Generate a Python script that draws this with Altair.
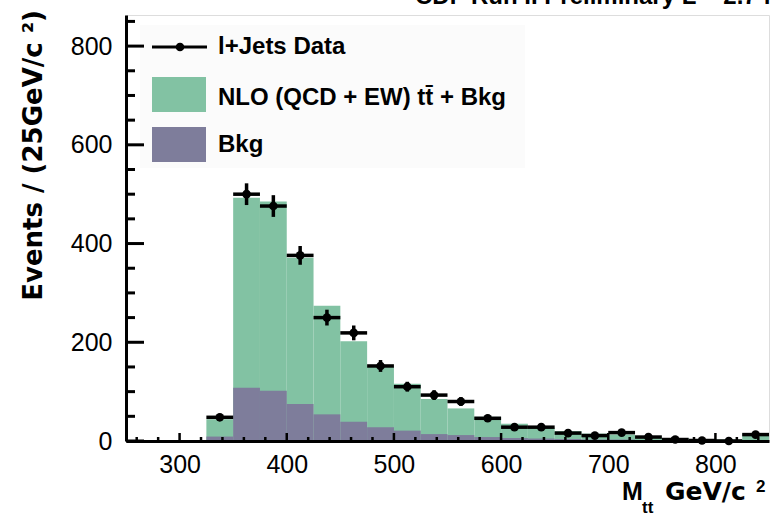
import altair as alt
import pandas as pd

# ---------------- data ----------------
bin_lo = [325, 350, 375, 400, 425, 450, 475, 500, 525, 550, 575,
          600, 625, 650, 675, 700, 725, 750, 775, 800, 825]
bin_width = 25
data_counts = [48, 500, 476, 376, 250, 219, 152, 110, 93, 80, 46,
               28, 28, 16, 11, 17, 8, 3, 1, 0, 13]
data_errors = [7, 22, 22, 19, 16, 15, 12, 10, 10, 9, 7,
               5, 5, 4, 3, 4, 3, 2, 1, 0, 4]
total_pred = [44, 493, 485, 371, 274, 202, 151, 116, 85, 66, 49,
              35, 27, 20, 15, 13, 9, 6, 4, 3, 15]
bkg_pred = [9, 108, 102, 75, 54, 39, 28, 21, 14, 12, 8,
            6, 5, 4, 3, 3, 2, 2, 1, 1, 2]

x_labels = [300, 400, 500, 600, 700, 800]
x_minor = [260, 280, 320, 340, 360, 380, 420, 440, 460, 480, 520, 540, 560, 580,
           620, 640, 660, 680, 720, 740, 760, 780, 820, 840]
y_labels = [0, 200, 400, 600, 800]
y_minor = [50, 100, 150, 250, 300, 350, 450, 500, 550, 650, 700, 750, 850]

GREEN = "#82c2a3"
PURPLE = "#7e7d9b"

df = pd.DataFrame({
    "lo": bin_lo,
    "hi": [b + bin_width for b in bin_lo],
    "center": [b + bin_width / 2 for b in bin_lo],
    "n": data_counts,
    "nlo": [n - e for n, e in zip(data_counts, data_errors)],
    "nhi": [n + e for n, e in zip(data_counts, data_errors)],
    "total": total_pred,
    "bkg": bkg_pred,
})
df_err = df[df["nhi"] > df["nlo"]]

W, H = 643, 426
xs = alt.Scale(domain=[250, 850], nice=False, zero=False)
ys = alt.Scale(domain=[0, 863], nice=False, zero=False)

xaxis = alt.Axis(values=x_labels, grid=False, ticks=False, domain=True,
                 domainColor="black", domainWidth=3, labelFont="Liberation Sans",
                 labelFontSize=25, labelColor="black", labelPadding=11,
                 title=None, zindex=1, labelFlush=False)
yaxis = alt.Axis(values=y_labels, grid=False, ticks=False, domain=True,
                 domainColor="black", domainWidth=3, labelFont="Liberation Sans",
                 labelFontSize=25, labelColor="black", labelPadding=14,
                 title=None, zindex=1)

X = lambda f: alt.X(f, type="quantitative", scale=xs, axis=xaxis)
Y = lambda f: alt.Y(f, type="quantitative", scale=ys, axis=yaxis)

one = pd.DataFrame({"a": [0]})

# legend background (very faint)
legend_bg = alt.Chart(one).mark_rect(fill="#fbfbfb").encode(
    x=alt.value(14), x2=alt.value(399), y=alt.value(10), y2=alt.value(153))

green = alt.Chart(df).mark_rect(color=GREEN).encode(
    x=X("lo"), x2="hi", y=Y("total"), y2=alt.datum(0))
purple = alt.Chart(df).mark_rect(color=PURPLE).encode(
    x=X("lo"), x2="hi", y=Y("bkg"), y2=alt.datum(0))

hbar = alt.Chart(df).mark_rule(color="black", strokeWidth=3.5).encode(
    x=X("lo"), x2="hi", y=Y("n"))
vbar = alt.Chart(df_err).mark_rule(color="black", strokeWidth=3.5).encode(
    x=X("center"), y=Y("nlo"), y2="nhi")
pts = alt.Chart(df).mark_point(shape="circle", filled=True, color="black",
                               size=75, opacity=1).encode(
    x=X("center"), y=Y("n"))

# inward ticks (tick marks are centred on the given pixel position)
ymaj = alt.Chart(pd.DataFrame({"ymaj": y_labels})).mark_tick(
    orient="horizontal", size=18, thickness=3, color="black", opacity=1).encode(
    y=Y("ymaj"), x=alt.value(9))
ymin = alt.Chart(pd.DataFrame({"ymin": y_minor})).mark_tick(
    orient="horizontal", size=9, thickness=3, color="black", opacity=1).encode(
    y=Y("ymin"), x=alt.value(4.5))
xmaj = alt.Chart(pd.DataFrame({"xmaj": x_labels})).mark_tick(
    orient="vertical", size=8, thickness=2.5, color="black", opacity=1).encode(
    x=X("xmaj"), y=alt.value(H - 4))
xmin = alt.Chart(pd.DataFrame({"xmin": x_minor})).mark_tick(
    orient="vertical", size=4, thickness=2.5, color="black", opacity=1).encode(
    x=X("xmin"), y=alt.value(H - 2))

# legend items
leg_line = alt.Chart(one).mark_rule(color="black", strokeWidth=3).encode(
    x=alt.value(26), x2=alt.value(81), y=alt.value(32))
leg_pt = alt.Chart(one).mark_point(shape="circle", filled=True, color="black",
                                   size=75, opacity=1).encode(
    x=alt.value(54), y=alt.value(32))
leg_g = alt.Chart(one).mark_rect(color=GREEN).encode(
    x=alt.value(26), x2=alt.value(80), y=alt.value(62), y2=alt.value(97))
leg_p = alt.Chart(one).mark_rect(color=PURPLE).encode(
    x=alt.value(26), x2=alt.value(80), y=alt.value(112), y2=alt.value(147))


def txt(s, x, y, size=24, font="Liberation Sans", align="left", angle=0,
        weight="bold", baseline="alphabetic"):
    kw = dict(font=font, fontSize=size, fontWeight=weight, align=align,
              baseline=baseline, color="black")
    if angle:
        kw["angle"] = angle
    return alt.Chart(one).mark_text(**kw).encode(
        x=alt.value(x), y=alt.value(y), text=alt.value(s))


texts = [
    txt("l+Jets Data", 92, 39),
    txt("NLO (QCD + EW) tt\u0304 + Bkg", 92, 90),
    txt("Bkg", 92, 137),
    # y title
    txt("Events / (25GeV/c \u00b2)", -84, -5, size=26, font="DejaVu Sans",
        align="right", angle=270),
    # x title pieces
    txt("M", 622 - 126, 500 - 15, size=25, font="Liberation Sans"),
    txt("tt", 642 - 126, 513 - 15, size=17, font="Liberation Sans"),
    txt("GeV/c", 665 - 126, 500 - 15, size=25, font="DejaVu Sans"),
    txt("2", 756 - 126, 492 - 15, size=17, font="Liberation Sans"),
    # top title (mostly cut off, as in the reference)
    txt("CDF Run II Preliminary L = 2.7 fb\u207b\u00b9", 415 - 126, -11, size=24),
]

chart = alt.layer(
    legend_bg, green, purple, hbar, vbar, pts,
    ymaj, ymin, xmaj, xmin,
    leg_line, leg_pt, leg_g, leg_p, *texts
).properties(
    width=W, height=H,
    autosize=alt.AutoSizeParams(type="none"),
    padding={"left": 126, "top": 15, "right": 3, "bottom": 78},
).configure_view(stroke="#222222", strokeWidth=1.5).configure(background="white")

chart.save("out.html", embed_options={"renderer": "svg", "actions": False})
